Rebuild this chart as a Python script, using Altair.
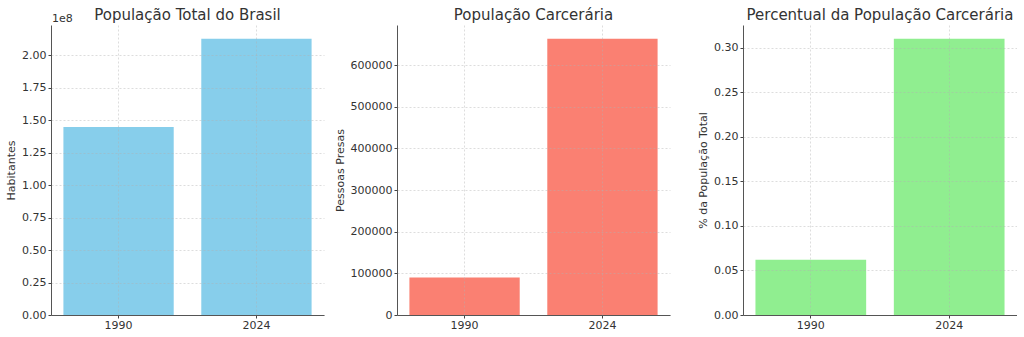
import altair as alt
import pandas as pd

anos = ["1990", "2024"]
populacao_total = [144700000, 212600000]
populacao_carceraria = [90000, 663000]
percentual = [0.062, 0.31]

titulos = ["População Total do Brasil", "População Carcerária", "Percentual da População Carcerária"]
eixos_y = ["Habitantes", "Pessoas Presas", "% da População Total"]
cores = ["#87CEEB", "#FA8072", "#90EE90"]

ticks_pop = [0, 25e6, 50e6, 75e6, 100e6, 125e6, 150e6, 175e6, 200e6]
ticks_carc = [0, 100000, 200000, 300000, 400000, 500000, 600000]
ticks_perc = [0, 0.05, 0.10, 0.15, 0.20, 0.25, 0.30]

FONT = "DejaVu Sans"
TXT = "#333333"
GRID = dict(grid=True, gridColor="#b0b0b0", gridOpacity=0.55, gridDash=[2, 2], gridWidth=0.8)


def painel(valores, titulo, eixo, cor, ticks, label_expr, fmt):
    df = pd.DataFrame({"ano": anos, "valor": valores})
    top = max(valores) * 1.05
    x = alt.X(
        "ano:N",
        title=None,
        sort=anos,
        scale=alt.Scale(paddingInner=0.2, paddingOuter=0.09),
        axis=alt.Axis(
            labelAngle=0, labelFont=FONT, labelFontSize=11, labelColor=TXT,
            tickSize=3, tickColor="#444444", labelPadding=1,
            domainColor="#555555", domainWidth=1, zindex=1, **GRID,
        ),
    )
    axis_y = dict(
        values=ticks, format=fmt, title=eixo, titleFont=FONT, titleFontSize=11,
        titleColor=TXT, titleFontWeight="normal", titlePadding=5,
        labelFont=FONT, labelFontSize=11, labelColor=TXT, labelPadding=2,
        tickSize=3, tickColor="#444444", domainColor="#555555", domainWidth=1,
        zindex=1, **GRID,
    )
    if label_expr:
        axis_y["labelExpr"] = label_expr
    y = alt.Y(
        "valor:Q",
        scale=alt.Scale(domain=[0, top], nice=False, zero=True),
        axis=alt.Axis(**axis_y),
    )
    bars = alt.Chart(df).mark_bar(color=cor).encode(x=x, y=y)
    return bars


p1 = painel(populacao_total, titulos[0], eixos_y[0], cores[0], ticks_pop,
            "format(datum.value / 1e8, '.2f')", "")
offset_txt = alt.Chart(pd.DataFrame({"t": ["1e8"]})).mark_text(
    align="left", baseline="alphabetic", font=FONT, fontSize=11, color=TXT
).encode(text="t:N", x=alt.value(1), y=alt.value(-3))
p1 = alt.layer(p1, offset_txt)
p2 = painel(populacao_carceraria, titulos[1], eixos_y[1], cores[1], ticks_carc, None, "d")
p3 = painel(percentual, titulos[2], eixos_y[2], cores[2], ticks_perc, None, ".2f")


def titulo(t, off):
    return alt.TitleParams(t, font=FONT, fontSize=15, fontWeight="normal", color=TXT,
                           anchor="middle", frame="group", offset=off)


p1 = p1.properties(width=273, height=290, title=titulo(titulos[0], -10))
p2 = p2.properties(width=273, height=290, title=titulo(titulos[1], 2))
p3 = p3.properties(width=274, height=290, title=titulo(titulos[2], 2))

chart = alt.hconcat(p1, p2, p3, spacing=73, bounds="flush").properties(
    padding={"left": 5, "top": 8, "right": 0, "bottom": 0},
    background="white",
).configure_view(strokeWidth=0, stroke=None)

chart.save("out.html", embed_options={"renderer": "svg", "actions": False})
